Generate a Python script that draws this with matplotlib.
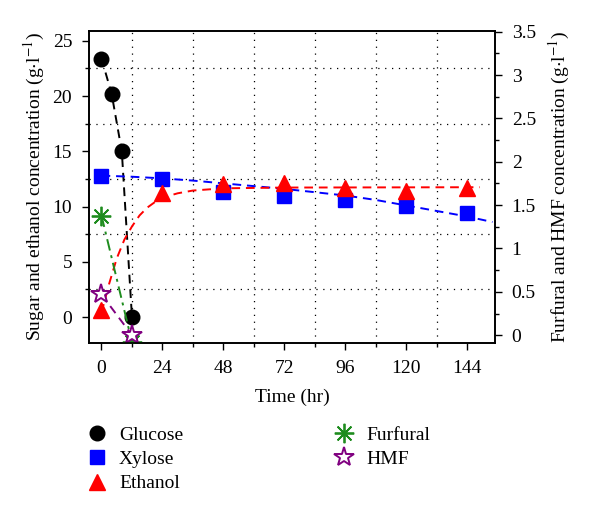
import matplotlib
matplotlib.use("Agg")
import matplotlib.pyplot as plt
from matplotlib.lines import Line2D
from matplotlib.ticker import MultipleLocator, FormatStrFormatter

#########################################################
# DATA
#########################################################

# glucose is sampled during the first 12 h only
time_glc = [0, 4, 8, 12]
glucose = [23.4, 20.2, 15.0, 0.0]

time_main = [0, 24, 48, 72, 96, 120, 144]
xylose = [12.8, 12.5, 11.35, 11.0, 10.6, 10.05, 9.4]
ethanol = [0.6, 11.2, 12.0, 12.1, 11.65, 11.4, 11.7]

# inhibitors (right axis)
time_inh = [0, 12]
furfural = [1.38, -0.08]
hmf = [0.47, 0.0]

# model curves
time_xyl_fit = [0, 12, 24, 36, 48, 60, 72, 84, 96, 108, 120, 132, 144, 154]
xylose_fit = [12.8, 12.7, 12.55, 12.35, 12.1, 11.85, 11.6, 11.3, 11.0,
              10.6, 10.1, 9.6, 9.1, 8.6]
time_eth_fit = [0, 3, 6, 9, 12, 15, 18, 21, 24, 30, 36, 48, 72, 149]
ethanol_fit = [0.4, 3.0, 5.3, 7.0, 8.2, 9.2, 9.9, 10.4, 10.8, 11.2, 11.45,
               11.65, 11.72, 11.75]

#########################################################
# STYLE
#########################################################
plt.rcParams["font.family"] = ["Liberation Serif", "DejaVu Serif"]
plt.rcParams["mathtext.fontset"] = "stix"

C_GLC = "black"
C_XYL = "#0000ff"
C_ETH = "#ff0000"
C_FUR = "#1e8c1e"
C_HMF = "#800080"
DASH = (0, (4.5, 3))
LW = 1.4
FS = 14

fig = plt.figure(figsize=(6, 5.15), dpi=100)
ax = fig.add_axes([0.148, 0.334, 0.677, 0.606])
ax2 = ax.twinx()

#########################################################
# LEFT AXIS: sugars + ethanol
#########################################################
ax.plot(time_glc, glucose, linestyle=DASH, color=C_GLC, lw=LW, zorder=3)
ax.plot(time_xyl_fit, xylose_fit, linestyle=DASH, color=C_XYL, lw=LW, zorder=3)
ax.plot(time_eth_fit, ethanol_fit, linestyle=DASH, color=C_ETH, lw=LW, zorder=3)

ax.plot(time_glc, glucose, "o", color=C_GLC, ms=10.5, zorder=4)
ax.plot(time_main, xylose, "s", color=C_XYL, ms=9.5, zorder=4)
ax.plot(time_main, ethanol, "^", color=C_ETH, ms=12, zorder=5)

ax.set_xlim(-5, 155)
ax.set_ylim(-2.35, 25.9)
ax.xaxis.set_major_locator(MultipleLocator(24))
ax.xaxis.set_minor_locator(MultipleLocator(12))
ax.yaxis.set_major_locator(MultipleLocator(5))
ax.yaxis.set_minor_locator(MultipleLocator(2.5))
ax.grid(which="minor", linestyle=(0, (1, 4.5)), color="black", lw=0.9)
ax.set_axisbelow(True)

ax.tick_params(which="both", direction="out", labelsize=FS, width=1, pad=7)
ax.tick_params(which="major", length=5)
ax.tick_params(which="minor", length=3)
ax.set_xlabel("Time (hr)", fontsize=FS, labelpad=9)
ax.set_ylabel(r"Sugar and ethanol concentration (g$\cdot$l$^{-1}$)", fontsize=FS,
              labelpad=4)

#########################################################
# RIGHT AXIS: furfural + HMF
#########################################################
ax2.plot(time_inh, furfural, linestyle=(0, (6, 2.5, 1.5, 2.5)), color=C_FUR, lw=LW)
ax2.plot(time_inh, hmf, linestyle=DASH, color=C_HMF, lw=LW)
ax2.plot(time_inh, furfural, marker=(8, 2, 0), linestyle="none", color=C_FUR,
         ms=14, mew=1.3)
ax2.plot(time_inh, hmf, marker="*", linestyle="none", mfc="white", mec=C_HMF,
         ms=15, mew=1.4)

ax2.set_ylim(-0.09, 3.51)
ax2.yaxis.set_major_locator(MultipleLocator(0.5))
ax2.yaxis.set_minor_locator(MultipleLocator(0.25))
ax2.yaxis.set_major_formatter(FormatStrFormatter("%g"))
ax2.tick_params(which="both", direction="out", labelsize=FS, width=1, pad=7)
ax2.tick_params(which="major", length=5)
ax2.tick_params(which="minor", length=3)
ax2.set_ylabel(r"Furfural and HMF concentration (g$\cdot$l$^{-1}$)", fontsize=FS,
               labelpad=8)

for a in (ax, ax2):
    for sp in a.spines.values():
        sp.set_linewidth(1.2)

#########################################################
# LEGEND (markers only, below the axes)
#########################################################
handles = [
    Line2D([], [], marker="o", color=C_GLC, ls="none", ms=10.5),
    Line2D([], [], marker="s", color=C_XYL, ls="none", ms=9.5),
    Line2D([], [], marker="^", color=C_ETH, ls="none", ms=12),
    Line2D([], [], marker=(8, 2, 0), color=C_FUR, ls="none", ms=14, mew=1.3),
    Line2D([], [], marker="*", mfc="white", mec=C_HMF, ls="none", ms=15, mew=1.4),
]
labels = ["Glucose", "Xylose", "Ethanol", "Furfural", "HMF"]
fig.legend(handles, labels, loc="upper left", bbox_to_anchor=(0.1325, 0.188),
           borderaxespad=0, ncol=2, frameon=False, fontsize=FS, handlelength=1.0,
           handletextpad=0.63, labelspacing=0.35, columnspacing=7.8)

fig.savefig("out.png", dpi=100)
